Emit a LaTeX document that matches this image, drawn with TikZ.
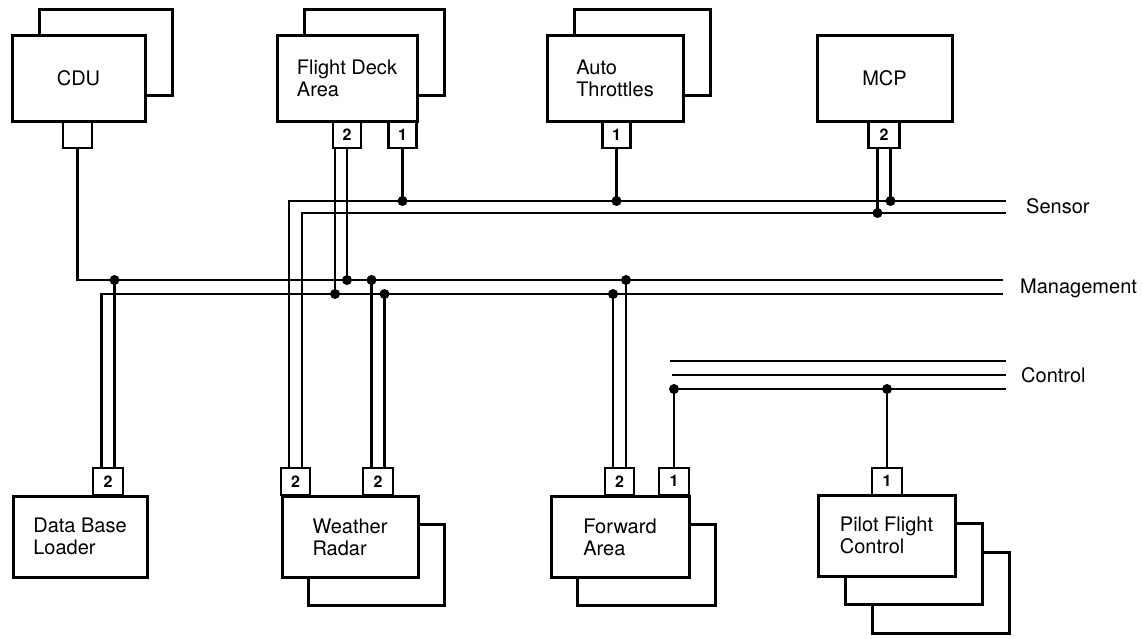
\documentclass[tikz,border=0pt]{standalone}
\usepackage{fontspec}
\setmainfont{TeX Gyre Heros}
\usetikzlibrary{shadows}

\tikzset{
  unit/.style={draw, line width=3pt, fill=white, inner sep=0pt, align=left,
    minimum width=136pt, minimum height=86pt, font=\fontsize{20}{22}\selectfont},
  lowunit/.style={unit, minimum height=81pt},
  stackup/.style={copy shadow={shadow xshift=27pt, shadow yshift=26pt}},
  stackdown/.style={copy shadow={shadow xshift=26pt, shadow yshift=-28pt}},
  port/.style={draw, line width=2.4pt, fill=white, inner sep=0pt,
    minimum width=28pt, minimum height=26pt, font=\fontsize{16}{16}\selectfont\bfseries},
  wire/.style={line width=2.3pt},
  buslabel/.style={anchor=base west, inner sep=0pt, font=\fontsize{20}{22}\selectfont}
}

\begin{document}
\begin{tikzpicture}[x=1pt, y=-1pt]
    \useasboundingbox (0,0) rectangle (1143,638);

    % Top units
    \node[unit, stackup, minimum width=133pt] (cdu) at (78.5,78) {CDU};
    \node[unit, stackup, minimum width=140pt] (fd) at (347,78) {Flight Deck\\Area};
    \node[unit, stackup] (at) at (615,78) {Auto\\Throttles};
    \node[unit, minimum width=135pt] (mcp) at (884.5,78) {MCP};

    % Bottom units
    \node[lowunit, minimum width=134pt] (dbl) at (80,536.5) {Data Base\\Loader};
    \node[lowunit, stackdown] (wr) at (350,537) {Weather\\Radar};
    \node[lowunit, stackdown, minimum width=138pt] (fa) at (620,537) {Forward\\Area};
    \node[lowunit, minimum width=137pt,
      double copy shadow={shadow xshift=27pt, shadow yshift=-28.5pt}] (pfc) at (886.5,535.5) {Pilot Flight\\Control};

    % Ports
    \node[port, anchor=north, minimum width=29pt] (cduP) at (77.5,121) {};
    \node[port, anchor=north] (fd2) at (347,121) {2};
    \node[port, anchor=north] (fd1) at (402.5,121) {1};
    \node[port, anchor=north] (at1) at (616.5,121) {1};
    \node[port, anchor=north, minimum width=31pt] (mcp2) at (884,121) {2};
    \node[port, anchor=south, minimum width=30pt, minimum height=27pt] (dbl2) at (108,496) {2};
    \node[port, anchor=south, minimum width=29pt, minimum height=27pt] (wrA) at (295.5,496) {2};
    \node[port, anchor=south, minimum width=30pt, minimum height=27pt] (wrB) at (378,496) {2};
    \node[port, anchor=south, minimum width=29pt, minimum height=27pt] (fa2) at (619.5,496) {2};
    \node[port, anchor=south, minimum width=30pt, minimum height=27pt] (fa1) at (674,496) {1};
    \node[port, anchor=south, minimum width=30pt, minimum height=27pt] (pfc1) at (887,496) {1};

    % Bus ends
    \coordinate (sUe) at (1006,201);
    \coordinate (sLe) at (1006,213);
    \coordinate (mUe) at (1003,280);
    \coordinate (mLe) at (1003,294);
    \coordinate (cTs) at (670,361);
    \coordinate (cTe) at (1006,361);
    \coordinate (cMs) at (672,375);
    \coordinate (cMe) at (1006,375);
    \coordinate (cBe) at (1006,389);

    % Sensor bus
    \draw[wire] ([xshift=-6.5pt]wrA.north) |- (sUe);
    \draw[wire] ([xshift=6.5pt]wrA.north) |- (sLe);
    \node[buslabel] (sensor) at (1026,213) {Sensor};

    % Management bus
    \draw[wire] (cduP.south) |- (mUe);
    \draw[wire] ([xshift=-6.5pt]dbl2.north) |- (mLe);
    \node[buslabel] (mgmt) at (1020,293) {Management};

    % Control bus
    \draw[wire] (cTs) -- (cTe);
    \draw[wire] (cMs) -- (cMe);
    \draw[wire] (fa1.north) |- (cBe);
    \node[buslabel] (ctrl) at (1021,382) {Control};

    % Taps from top units
    \draw[wire] ([xshift=-12pt]fd2.south) -- ([xshift=-12pt]fd2.south |- mLe);
    \draw[wire] (fd2.south) -- (fd2.south |- mUe);
    \draw[wire] (fd1.south) -- (fd1.south |- sUe);
    \draw[wire] (at1.south) -- (at1.south |- sUe);
    \draw[wire] ([xshift=-6.5pt]mcp2.south) -- ([xshift=-6.5pt]mcp2.south |- sLe);
    \draw[wire] ([xshift=6.5pt]mcp2.south) -- ([xshift=6.5pt]mcp2.south |- sUe);

    % Taps from bottom units
    \draw[wire] ([xshift=6.5pt]dbl2.north) -- ([xshift=6.5pt]dbl2.north |- mUe);
    \draw[wire] ([xshift=-6.5pt]wrB.north) -- ([xshift=-6.5pt]wrB.north |- mUe);
    \draw[wire] ([xshift=6.5pt]wrB.north) -- ([xshift=6.5pt]wrB.north |- mLe);
    \draw[wire] ([xshift=-6.5pt]fa2.north) -- ([xshift=-6.5pt]fa2.north |- mLe);
    \draw[wire] ([xshift=6.5pt]fa2.north) -- ([xshift=6.5pt]fa2.north |- mUe);
    \draw[wire] (pfc1.north) -- (pfc1.north |- cBe);

    % Junction dots
    \fill ([xshift=-12pt]fd2.south |- mLe) circle (5pt);
    \fill (fd2.south |- mUe) circle (5pt);
    \fill (fd1.south |- sUe) circle (5pt);
    \fill (at1.south |- sUe) circle (5pt);
    \fill ([xshift=-6.5pt]mcp2.south |- sLe) circle (5pt);
    \fill ([xshift=6.5pt]mcp2.south |- sUe) circle (5pt);
    \fill ([xshift=6.5pt]dbl2.north |- mUe) circle (5pt);
    \fill ([xshift=-6.5pt]wrB.north |- mUe) circle (5pt);
    \fill ([xshift=6.5pt]wrB.north |- mLe) circle (5pt);
    \fill ([xshift=-6.5pt]fa2.north |- mLe) circle (5pt);
    \fill ([xshift=6.5pt]fa2.north |- mUe) circle (5pt);
    \fill (fa1.north |- cBe) circle (5pt);
    \fill (pfc1.north |- cBe) circle (5pt);
\end{tikzpicture}
\end{document}
